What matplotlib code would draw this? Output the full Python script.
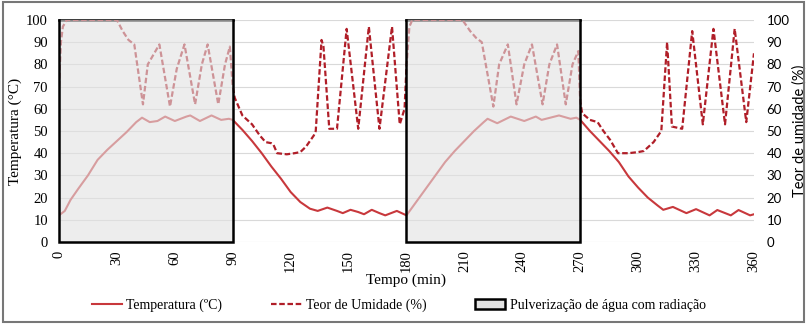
import matplotlib
matplotlib.use('Agg')
import matplotlib.pyplot as plt
from matplotlib.patches import Rectangle, Patch
from matplotlib.lines import Line2D

plt.rcParams['font.family'] = ['Liberation Serif', 'DejaVu Serif']

# temperature (solid line)
temp_t = [0, 3, 6, 10, 15, 20, 25, 30, 35, 40, 43, 47, 51, 55, 60, 66, 68, 73, 79, 84, 88, 90,
          95, 100, 105, 110, 115, 120, 125, 130, 134, 139, 144, 147, 151, 155, 158, 162, 166, 169, 175, 180,
          185, 190, 195, 200, 205, 210, 215, 220, 222, 227, 234, 241, 247, 250, 259, 265, 268, 270,
          275, 280, 285, 290, 295, 300, 305, 310, 313, 318, 325, 330, 337, 341, 348, 352, 358, 360]
temp = [12, 14, 19, 24, 30, 37, 41.5, 45.5, 49.5, 54, 56, 54, 54.5, 56.5, 54.5, 56.5, 57, 54.5, 57, 55, 55.5, 55,
        50.5, 45.5, 40, 34, 28.5, 22.5, 18, 15, 14, 15.5, 14, 13, 14.5, 13.5, 12.5, 14.5, 13, 12, 14, 12,
        18, 24, 30, 36, 41, 45.5, 50, 54, 55.5, 53.5, 56.5, 54.5, 56.5, 55, 57, 55.5, 56, 55,
        50, 45.5, 41, 36, 29.5, 24.5, 20, 16.5, 14.5, 15.8, 13, 14.8, 12, 14.4, 12, 14.4, 12, 12.5]

# moisture content (dashed line)
hum_t = [0, 1, 2, 4, 30, 33, 36, 39, 43.5, 46, 52, 57.5, 61, 65, 70.5, 74, 77, 82.5, 86, 88.5, 90,
         91, 93, 95, 100, 104, 107, 110, 111, 113, 118, 122, 125, 128, 132, 133, 136, 137, 140, 144,
         149, 155, 160.5, 166, 172.5, 176.5, 179, 180, 181.5, 183, 209, 213, 216, 219, 225, 228, 232.5,
         237, 241, 245, 250.5, 254, 258, 262.5, 266, 269, 270, 271, 275, 279, 282, 285.5, 289.5, 295,
         300, 303, 308, 310, 312, 315, 317.5, 322.8, 328, 333.5, 339, 345, 350, 356, 360]
hum = [70, 90, 97, 100, 100, 95, 91, 89, 62, 80, 89, 61, 78, 89, 62, 80, 89, 62, 80, 88, 70,
       65, 61, 57, 53, 48, 45, 44.5, 44, 40, 39.5, 40, 40.5, 43, 48, 50, 91, 88, 51, 51,
       96, 51, 97, 51, 97, 53, 60, 79, 97, 100, 100, 95, 92, 90, 61, 80, 89,
       62, 80, 89, 62, 80, 89, 62, 80, 86, 63, 58, 55, 54, 50, 46, 40, 40,
       40.5, 41, 45, 47.5, 50, 90, 52, 51, 95, 53, 96, 53, 96, 54, 85]

# water spraying with radiation periods
spray_start = [0, 180]
spray_end = [90, 270]

x_ticks = list(range(0, 361, 30))
y_ticks = list(range(0, 101, 10))

red_t = '#c8383c'
red_h = '#b01e28'

fig = plt.figure(figsize=(8.07, 3.24), dpi=100)
ax = fig.add_axes([0.0731, 0.2531, 0.8612, 0.6852])
ax2 = ax.twinx()

ax.plot(temp_t, temp, color=red_t, lw=1.5, zorder=3)
ax2.plot(hum_t, hum, color=red_h, lw=1.6, dashes=(2.5, 1.2), zorder=3)

# grey wash over the lines; sides/bottom of the frame on top, top edge under the dashes
for a, b in zip(spray_start, spray_end):
    ax2.add_patch(Rectangle((a, 0), b - a, 100, facecolor='#e2e2e2', alpha=0.6,
                            edgecolor='none', zorder=4))
    ax2.plot([a, b], [100, 100], color='black', lw=1.8, zorder=2, clip_on=False)
    ax2.plot([a, a, b, b], [100, 0, 0, 100], color='black', lw=1.8, zorder=5,
             clip_on=False, solid_joinstyle='miter')

for a in (ax, ax2):
    a.set_xlim(0, 360)
    a.set_ylim(0, 100)
    a.set_yticks(y_ticks)
    for s in a.spines.values():
        s.set_visible(False)
    a.tick_params(length=0, labelsize=10.5)

ax.yaxis.grid(True, color='#d9d9d9', lw=0.8)
ax.set_axisbelow(True)
ax.set_xticks(x_ticks)
ax.set_xticklabels([str(v) for v in x_ticks], rotation=90)
ax.tick_params(axis='x', pad=6)
ax.tick_params(axis='y', pad=8)
# the right axis in the original is set in a Calibri-like sans face
ax2.tick_params(axis='y', pad=9, labelsize=9.5, labelfontfamily='Lato')

ax.set_xlabel('Tempo (min)', fontsize=11, labelpad=1)
ax.set_ylabel('Temperatura (°C)', fontsize=11, labelpad=3)
ax2.set_ylabel('Teor de umidade (%)', fontsize=10.5, labelpad=2, family='Lato')

handles = [Line2D([], [], color=red_t, lw=1.5),
           Line2D([], [], color=red_h, lw=1.6, dashes=(2.5, 1.2)),
           Patch(facecolor='#e2e2e2', edgecolor='black', lw=1.8)]
labels = ['Temperatura (ºC)', 'Teor de Umidade (%)', 'Pulverização de água com radiação']
fig.legend(handles, labels, loc='center', bbox_to_anchor=(0.494, 0.058), ncol=3,
           frameon=False, fontsize=10, handlelength=2.2, handletextpad=0.3,
           columnspacing=3.5)

fig.add_artist(Rectangle((0.004, 0.006), 0.992, 0.988, transform=fig.transFigure,
                         facecolor='none', edgecolor='#777777', lw=1.5))

fig.savefig('out.png', dpi=100)
